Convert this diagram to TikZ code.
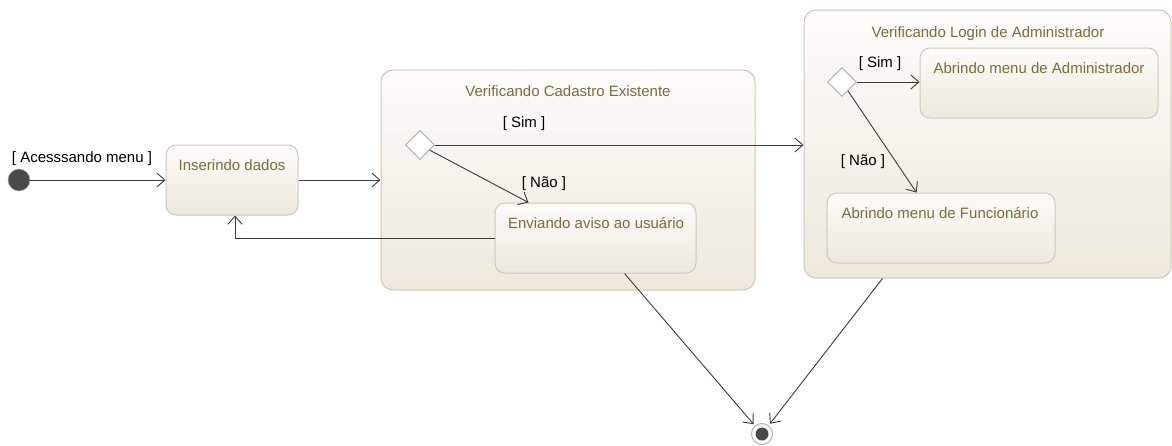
\documentclass[tikz,border=0pt]{standalone}
\usepackage{fontspec}
\setmainfont{Liberation Sans}
\usetikzlibrary{arrows.meta,shapes.geometric,calc}

\definecolor{statetext}{HTML}{7D6B3C}
\definecolor{stateborder}{HTML}{CFC7B8}
\definecolor{filltop}{HTML}{FDFCFA}
\definecolor{fillbot}{HTML}{EEE8DE}
\definecolor{wire}{HTML}{3A3A3A}
\definecolor{dot}{HTML}{4A4A4A}

\begin{document}
\begin{tikzpicture}[x=1pt,y=-1pt,
  font=\fontsize{15}{18}\selectfont,
  region/.style={draw=stateborder, line width=1pt, rounded corners=12pt,
    top color=filltop, bottom color=fillbot, inner sep=0pt},
  action/.style={draw=stateborder, line width=1pt, rounded corners=10pt,
    top color=filltop, bottom color=fillbot, inner sep=0pt},
  caption/.style={text=statetext, inner sep=0pt, text height=11pt, text depth=0pt},
  guard/.style={text=black, inner sep=0pt, text height=11pt, text depth=0pt},
  choice/.style={diamond, draw=gray!65, fill=white, minimum size=29pt,
    inner sep=0pt, line width=0.9pt},
  flow/.style={draw=wire, line width=0.9pt,
    -{Straight Barb[length=8pt,width=14pt]}},
  plain/.style={draw=wire, line width=0.9pt},
]
\useasboundingbox (0,0) rectangle (1172,445);

% composite states
\node[region, minimum width=374pt, minimum height=220pt] (cad) at (568,180) {};
\node[region, minimum width=367pt, minimum height=268pt] (login) at (987.5,144) {};
\node[caption] (cadT) at (568,91) {Verificando Cadastro Existente};
\node[caption] (loginT) at (988,32) {Verificando Login de Administrador};

% simple states
\node[action, minimum width=132pt, minimum height=70pt] (ins) at (232,180) {};
\node[action, minimum width=201pt, minimum height=70pt] (env) at (595.5,238) {};
\node[action, minimum width=238pt, minimum height=70pt] (adm) at (1039,83) {};
\node[action, minimum width=228pt, minimum height=70pt] (func) at (941,228) {};
\node[caption] (insT) at (232,165) {Inserindo dados};
\node[caption] (envT) at (596,223) {Enviando aviso ao usuário};
\node[caption] (admT) at (1039,68) {Abrindo menu de Administrador};
\node[caption] (funcT) at (940,213) {Abrindo menu de Funcionário};

% decisions
\node[choice] (d1) at (420,145) {};
\node[choice] (d2) at (842,82) {};

% initial and final pseudostates
\node[circle, fill=dot, draw=gray!60, line width=0.6pt, minimum size=22pt, inner sep=0pt] (init) at (19,180) {};
\node[circle, draw=gray!60, fill=white, line width=1pt, minimum size=21pt, inner sep=0pt] (fin) at (762,434) {};
\node[circle, fill=dot, minimum size=13pt, inner sep=0pt] (finDot) at (fin.center) {};

% guards
\node[guard] (gStart) at (82,157) {[ Acesssando menu ]};
\node[guard] (gSim1) at (524,122) {[ Sim ]};
\node[guard] (gNao1) at (544,182) {[ Não ]};
\node[guard] (gSim2) at (880,62) {[ Sim ]};
\node[guard] (gNao2) at (863,160) {[ Não ]};

% transitions
\draw[flow] (init) -- (ins);
\draw[flow] (ins.east) -- (ins.east -| cad.west);
\draw[flow] (d1.east) -- (d1.east -| login.west);
\draw[flow] (d1) -- ($(env.north west)+(34,0)$);
\draw[flow] (env.west) -| ($(ins.south)+(3,0)$);
\draw[flow] (d2.east) -- (d2.east -| adm.west);
\draw[flow] (d2) -- ($(func.north west)+(90,0)$);
\draw[flow, shorten >=2pt] ($(env.south west)+(130,0)$) -- (fin);
\draw[flow, shorten >=2pt] ($(login.south west)+(79,0)$) -- (fin);
\end{tikzpicture}
\end{document}
